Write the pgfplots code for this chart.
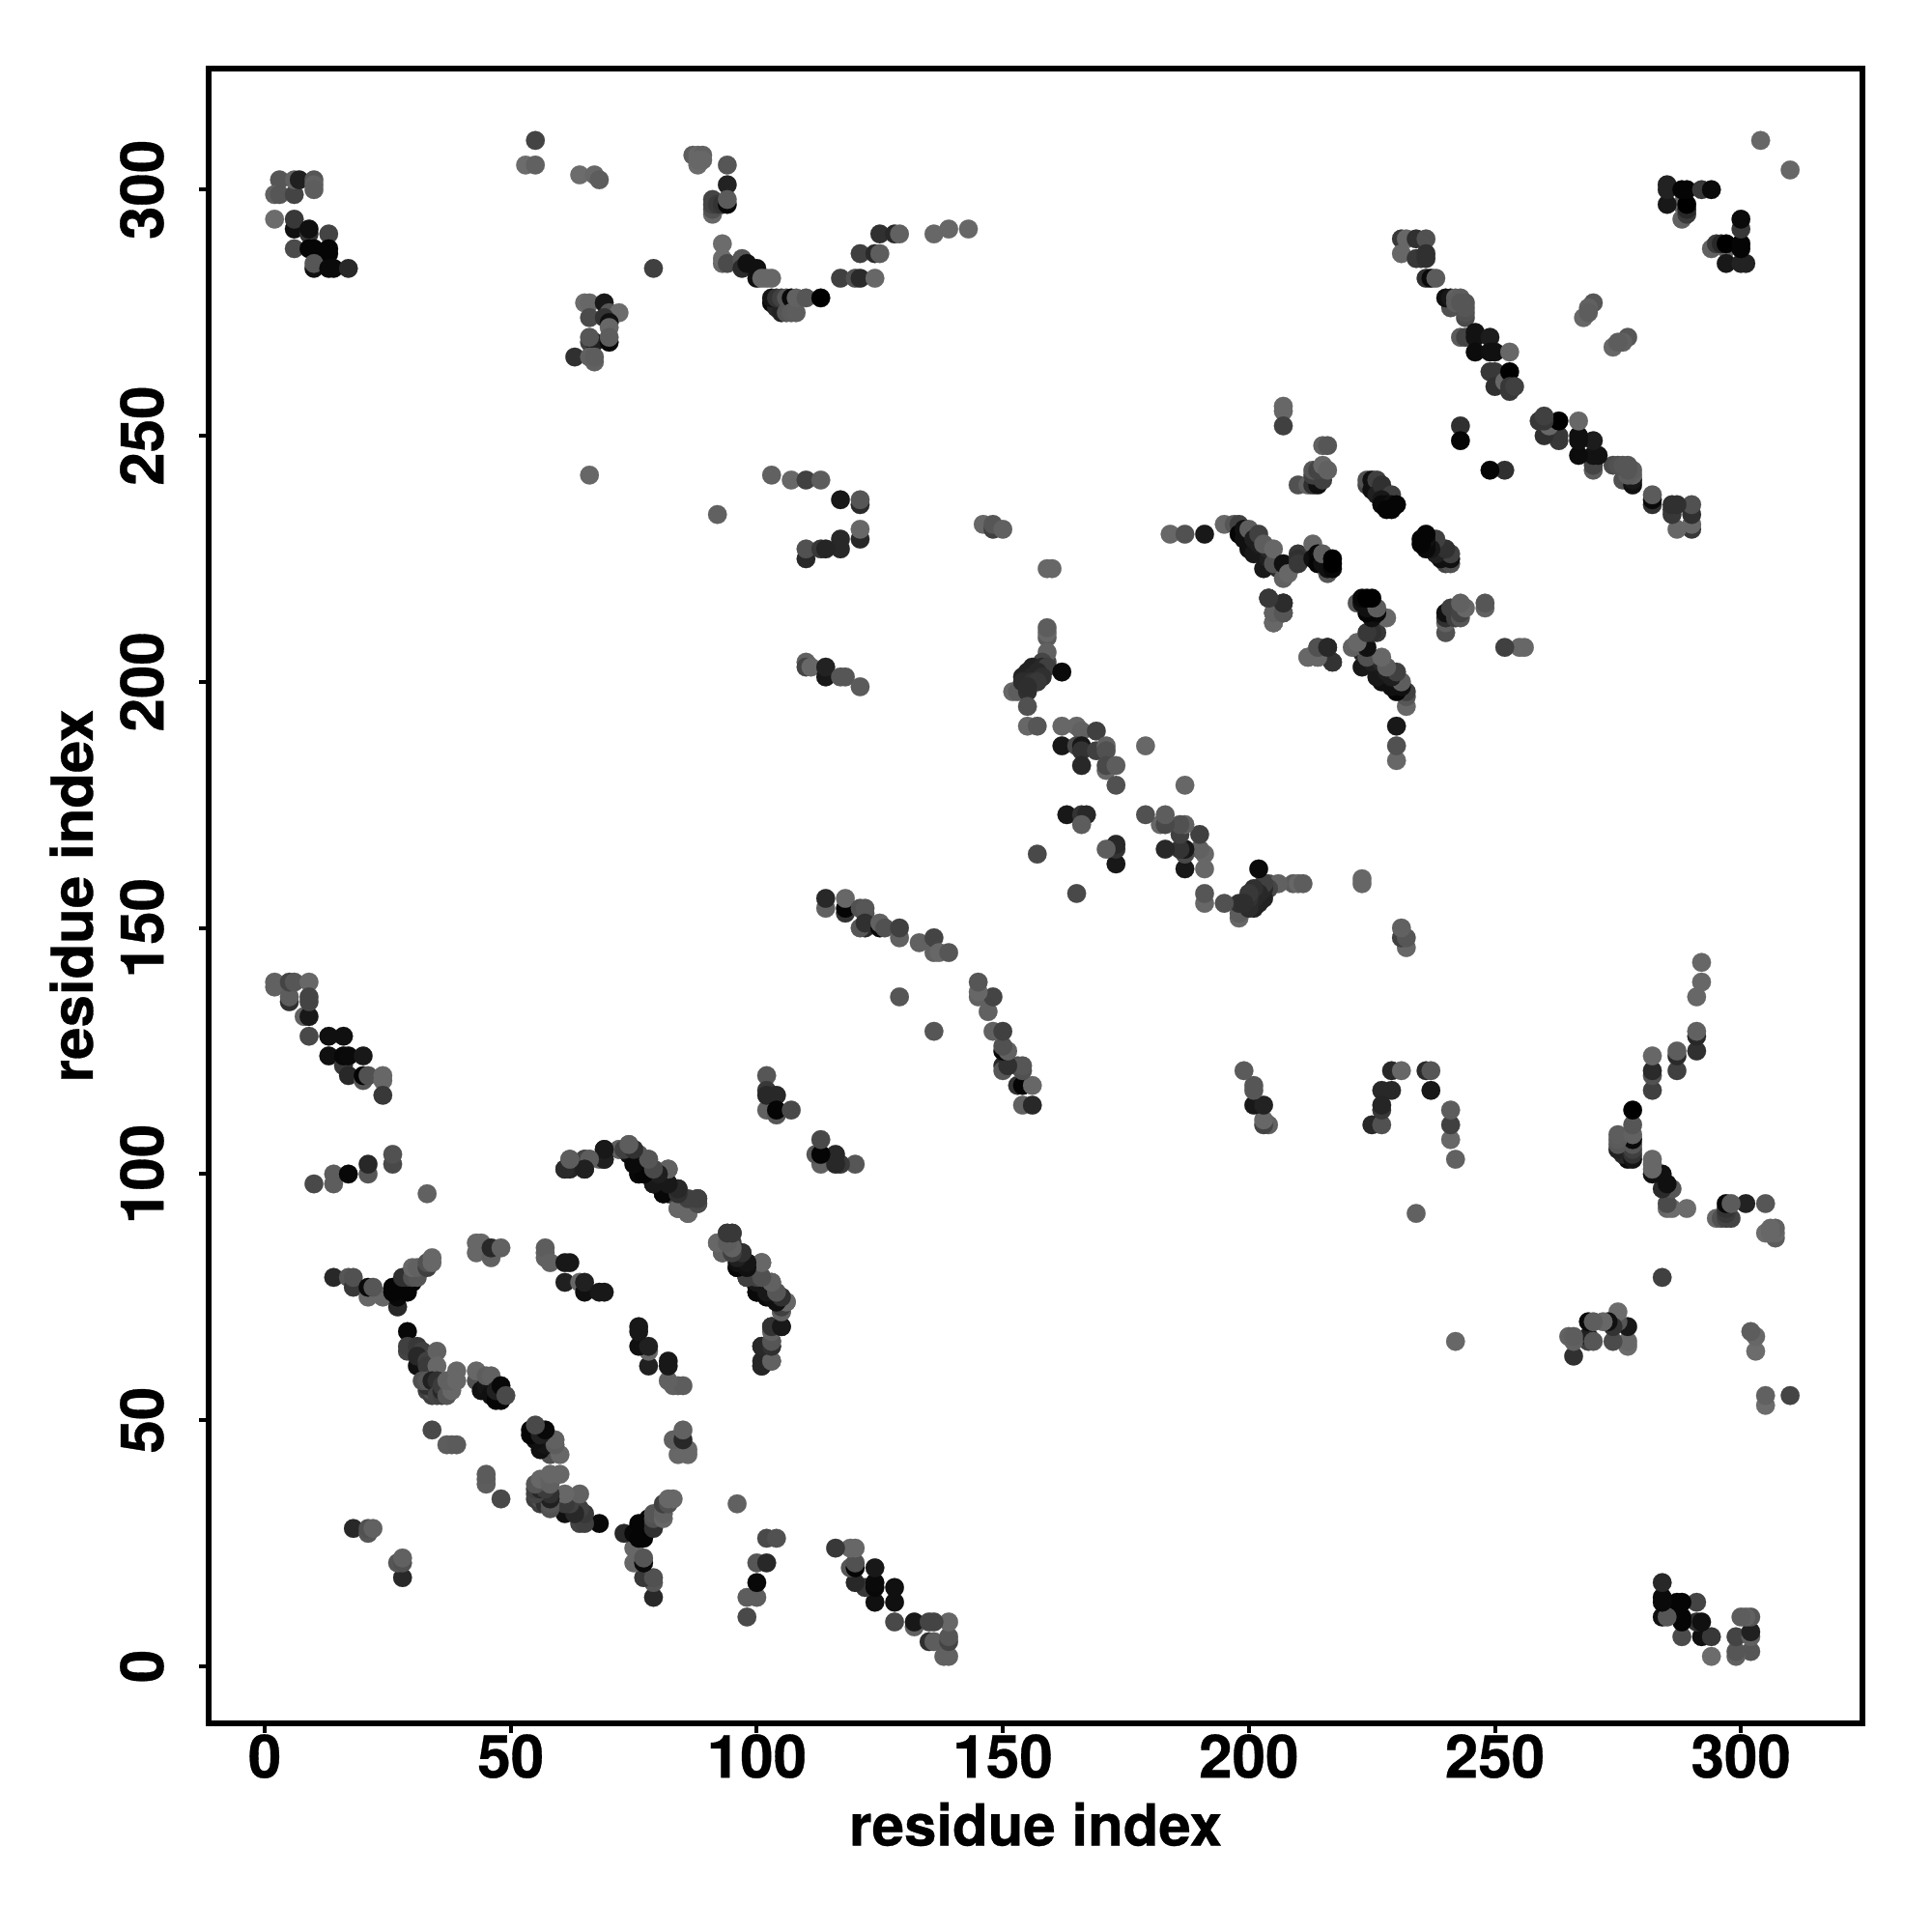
\documentclass[border=0pt]{standalone}
\usepackage{pgfplots}
\usepackage{pgfplotstable}
\usepackage{fontspec}
\setmainfont{TeX Gyre Heros}[BoldFeatures={FakeBold=0.5}]
\pgfplotsset{compat=1.18}
\pgfplotstableread{
x y g
3 302 85
2 299 96
3 299 85
6 299 68
6 302 96
7 302 32
10 302 85
10 301 96
10 300 92
2 294 107
6 292 16
6 294 56
9 291 51
9 292 16
13 291 68
6 288 74
9 288 5
10 288 5
13 287 5
13 288 5
10 284 16
10 285 85
13 284 10
14 284 10
17 284 40
55 310 68
53 305 107
55 305 96
64 303 107
67 303 102
68 302 92
79 284 64
65 277 107
66 277 102
69 277 24
70 275 85
72 275 107
66 274 74
69 274 51
70 273 16
70 272 102
66 269 64
67 269 32
66 270 85
70 269 10
70 270 92
63 266 48
66 266 96
67 265 96
67 266 92
66 242 102
92 234 96
87 307 92
88 307 102
89 307 96
88 305 107
88 306 102
89 306 102
94 305 85
94 301 34
91 295 102
91 296 80
91 297 68
91 298 68
92 297 58
93 297 51
94 297 8
94 298 90
93 289 107
93 285 102
93 286 107
94 285 74
97 286 85
97 284 42
98 285 16
100 284 16
100 282 16
101 282 102
102 282 102
103 282 102
103 277 10
104 276 40
105 275 34
103 278 21
104 278 51
105 278 64
106 275 85
106 278 85
107 278 10
107 275 90
108 275 92
108 278 96
110 278 85
113 278 0
117 282 64
120 282 80
121 282 42
124 282 102
121 287 64
124 287 42
125 287 92
125 291 48
128 291 40
129 291 96
136 291 102
139 292 102
143 292 102
103 242 96
107 241 102
110 241 64
113 241 92
117 237 24
121 236 42
121 237 85
121 229 40
121 231 102
117 229 40
117 227 40
110 225 40
110 227 80
113 227 56
114 227 37
146 232 102
148 231 64
148 232 85
150 231 96
184 230 102
187 230 80
191 230 24
195 232 102
197 232 85
198 232 64
198 230 5
199 231 16
199 229 16
200 227 16
201 226 24
200 231 92
201 229 30
202 228 30
202 230 64
203 223 24
204 225 30
204 227 40
203 228 92
206 223 40
205 224 80
205 227 102
207 221 96
207 224 16
208 222 102
210 226 56
210 225 48
210 224 56
213 228 102
213 225 16
214 226 8
214 224 5
216 222 85
216 223 16
215 224 16
215 226 92
217 223 8
217 224 0
217 225 0
159 223 102
160 223 102
207 256 102
207 255 102
207 252 64
215 248 96
216 248 85
210 240 80
212 240 96
213 240 48
214 240 16
215 241 64
213 242 64
213 243 85
214 243 68
215 244 102
216 243 96
204 217 51
205 212 102
205 214 102
207 214 80
207 216 40
212 205 102
214 205 96
214 207 85
216 207 44
217 204 56
110 204 96
110 203 68
111 203 102
114 201 24
114 203 34
117 201 85
118 201 85
121 199 90
159 209 90
159 210 102
159 211 92
159 204 74
159 206 96
158 204 70
156 203 34
158 203 40
159 203 64
155 202 34
157 202 40
162 202 10
152 198 102
153 198 92
154 201 34
155 201 36
156 201 40
158 201 48
154 200 44
155 200 44
156 200 50
157 200 56
155 198 48
155 199 46
155 195 80
155 191 102
157 191 85
162 191 102
165 191 102
166 190 96
169 190 64
162 187 24
165 187 72
166 187 24
166 186 51
166 183 40
169 186 64
171 187 96
171 186 80
171 182 102
171 183 72
173 183 92
173 179 80
179 187 102
166 172 102
163 173 24
166 173 51
167 173 40
166 171 92
157 165 72
114 154 96
114 156 40
118 153 51
118 154 5
118 156 102
121 154 80
122 153 80
122 154 85
122 150 40
121 150 85
122 151 48
125 150 8
125 151 96
126 150 80
129 148 96
129 150 64
133 147 96
136 145 96
136 148 68
137 145 102
139 145 85
129 136 85
304 310 102
288 294 96
288 297 102
289 295 58
289 296 40
289 297 0
285 297 24
285 300 34
285 301 34
288 300 5
289 300 5
292 300 56
294 300 10
270 277 85
269 276 96
268 274 102
269 275 92
231 290 56
232 290 102
234 290 48
236 290 80
231 287 102
234 286 56
235 286 56
236 286 48
236 287 48
236 282 48
237 282 10
238 282 90
241 276 80
240 278 16
241 278 24
242 278 96
243 278 92
242 277 92
244 274 74
244 275 80
244 276 85
243 277 85
244 277 85
243 270 90
244 270 68
246 270 18
246 271 18
249 270 28
246 267 12
249 267 16
250 267 16
253 267 102
249 263 56
250 263 56
250 260 48
252 261 102
253 263 0
253 259 56
253 260 56
254 260 64
243 252 48
243 249 5
224 240 70
224 241 80
225 239 16
225 241 16
226 241 64
226 238 32
227 240 48
229 238 64
227 237 24
227 236 10
228 236 10
229 236 16
228 235 5
229 235 5
230 236 5
14 79 40
17 79 85
18 77 56
18 79 80
21 75 102
24 75 102
21 77 10
22 77 85
27 73 40
27 75 8
26 76 5
26 77 5
28 77 5
28 78 5
29 76 5
30 78 5
28 79 48
29 79 48
30 79 80
31 79 85
30 81 102
31 81 96
33 81 64
33 82 80
34 82 102
34 83 102
29 68 8
29 64 68
29 65 64
31 65 56
32 64 64
31 61 16
31 63 40
33 62 64
33 61 58
35 64 96
35 61 102
33 56 64
34 55 64
34 56 80
33 57 48
32 58 80
33 58 85
34 58 32
35 58 48
35 55 69
36 55 64
36 56 40
36 57 60
37 55 85
38 56 102
37 58 96
38 58 96
39 58 102
39 60 102
43 58 80
43 60 102
44 56 16
45 57 21
45 59 92
46 59 96
46 55 16
47 54 5
48 54 5
47 56 32
48 57 8
49 55 72
43 84 102
43 86 102
44 86 102
46 83 96
46 85 40
48 85 96
57 83 96
57 84 96
57 85 92
58 82 96
61 82 24
62 82 24
61 78 32
64 78 102
65 76 16
65 78 32
68 76 24
69 76 24
34 48 72
37 45 92
38 45 92
39 45 90
18 28 40
21 27 85
21 28 80
22 28 96
2 138 96
2 139 96
5 135 48
5 136 92
5 139 68
6 139 85
9 139 102
8 132 96
9 132 24
9 135 68
9 136 68
9 128 72
13 128 16
16 128 16
13 124 16
16 122 56
16 124 8
17 124 10
20 124 24
17 120 40
20 119 85
20 120 5
21 120 80
24 119 102
24 120 102
24 116 56
10 98 72
14 98 92
14 100 92
17 100 8
21 100 85
21 102 40
26 102 72
26 104 80
33 96 96
61 101 37
62 101 37
62 103 96
65 101 40
65 103 48
66 103 85
68 103 96
69 103 51
69 105 24
72 105 96
73 105 64
74 106 102
74 104 16
75 103 16
75 104 16
75 105 48
76 100 10
76 102 24
77 102 24
76 104 85
78 100 24
78 103 96
79 98 64
79 100 64
79 101 80
82 101 102
81 96 5
81 98 16
82 96 16
82 98 21
83 96 32
84 97 48
84 93 96
86 92 102
84 95 64
85 95 96
86 94 92
88 94 56
88 95 56
92 86 102
93 84 102
94 88 74
95 86 64
95 88 64
96 81 8
96 84 48
97 84 40
98 82 24
101 82 96
98 79 24
99 79 24
100 80 30
100 76 8
100 77 5
101 79 72
102 75 10
103 78 85
105 72 96
105 73 64
105 75 48
106 74 92
103 69 32
105 69 24
103 65 68
103 66 92
101 65 32
101 61 42
103 62 92
102 120 85
102 117 56
102 113 96
102 116 40
104 112 85
104 116 40
104 113 5
107 113 72
}\contacts
\begin{document}
\begin{tikzpicture}
\path (0,0) rectangle (1000bp,1000bp);
\begin{axis}[
  at={(108bp,108bp)}, anchor=south west,
  scale only axis, width=856bp, height=856.5bp,
  xmin=-11.4, xmax=324.7, ymin=-11.6, ymax=324.6,
  xtick={0,50,...,300}, ytick={0,50,...,300},
  tick pos=left, tick align=outside,
  major tick length=5bp,
  line width=2.7bp,
  tick style={line width=2bp,black},
  axis line style={line width=2.7bp,black},
  /pgf/number format/assume math mode=true,
  /pgf/number format/1000 sep={},
  tick label style={font=\fontsize{31bp}{31bp}\selectfont\bfseries},
  xticklabel style={anchor=north,yshift=4bp},
  yticklabel style={xshift=-13.5bp,rotate=90,anchor=south},
  xlabel={residue index}, ylabel={residue index},
  every axis x label/.style={at={(axis description cs:0.5,-0.061)},anchor=center,font=\fontsize{30bp}{30bp}\selectfont\bfseries},
  every axis y label/.style={at={(axis description cs:-0.083,0.5)},rotate=90,anchor=center,font=\fontsize{30bp}{30bp}\selectfont\bfseries},
  colormap={greys}{gray(0cm)=(0); gray(1cm)=(1)},
  colormap name=greys,
  point meta min=0, point meta max=255,
  clip=false,
]
\addplot[scatter, only marks, mark=*, mark size=4.85bp, point meta=explicit,
  mark options={line width=0.1bp},
  scatter/use mapped color={draw=mapped color,fill=mapped color}]
  table[x=x,y=y,meta=g]{\contacts};
\addplot[scatter, only marks, mark=*, mark size=4.85bp, point meta=explicit,
  mark options={line width=0.1bp},
  scatter/use mapped color={draw=mapped color,fill=mapped color}]
  table[x=y,y=x,meta=g]{\contacts};
\end{axis}
\end{tikzpicture}
\end{document}
